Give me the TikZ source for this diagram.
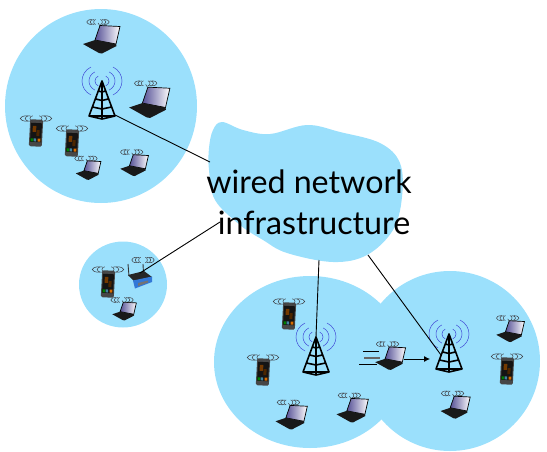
\documentclass[tikz,border=0pt]{standalone}
\usepackage{fontspec}
\usetikzlibrary{arrows.meta}
\setmainfont{Lato}
\definecolor{cloudblue}{RGB}{155,224,252}
\definecolor{wavegray}{RGB}{60,60,65}
\definecolor{towerwave}{RGB}{65,75,215}
\definecolor{screenblue}{RGB}{85,80,150}
\definecolor{routerblue}{RGB}{50,120,215}
\tikzset{
  cell/.style={fill=cloudblue,draw=none},
  link/.style={draw=black,line width=0.9pt},
  waveline/.style={draw=wavegray,line width=0.5pt},
  labeltext/.style={font=\fontsize{32.2}{36}\selectfont,text=black,anchor=base,inner sep=0pt},
  wireless/.pic={
    \foreach \r in {5,9,13}{
      \draw[waveline] (-\r*0.45,-2.7) .. controls (-\r,-2.9) and (-\r,2.9) .. (-\r*0.45,2.7);
      \draw[waveline] (\r*0.45,-2.7) .. controls (\r,-2.9) and (\r,2.9) .. (\r*0.45,2.7);
    }
  },
  laptopicon/.pic={
    \shade[left color=screenblue,right color=white,draw=black,line width=0.7pt]
      (-1,-13.5) -- (19,-12.5) -- (15,5) -- (-6,1) -- cycle;
    \fill[black!90] (-18,5) -- (-6,1) -- (15,5) -- (15.5,7) -- (1,14.5) -- (-2,14) -- cycle;
    \draw[wavegray,line width=0.5pt] (-1,-13) -- (-3,-16);
    \pic[yscale=0.9] at (-3,-17) {wireless};
  },
  phoneicon/.pic={
    \begin{scope}[rotate=-3]
      \fill[black!72,rounded corners=1.5pt] (-6.5,-13.5) rectangle (6.5,13.5);
      \fill[black!92] (-5.5,-10) rectangle (5.5,9);
      \fill[orange!45!black] (-3.5,-7) rectangle (0,-1);
      \fill[orange!30!black] (0.5,-3) rectangle (3.5,3);
      \fill[green!50!black] (-5,5.5) rectangle (-2.5,8.5);
      \fill[cyan!60!black] (-2,5.5) rectangle (0.5,8.5);
      \fill[orange!85!black] (2,5.5) rectangle (4.8,8.5);
    \end{scope}
    \pic[xscale=1.4] at (0,-14.5) {wireless};
  },
  towericon/.pic={
    \draw[towerwave,line width=0.5pt]
      \foreach \r in {7,13,20}{
        (-\r*0.55,-\r*0.7) .. controls (-\r*1.15,-\r*0.4) and (-\r*1.15,\r*0.4) .. (-\r*0.55,\r*0.7)
        (\r*0.55,-\r*0.7) .. controls (\r*1.15,-\r*0.4) and (\r*1.15,\r*0.4) .. (\r*0.55,\r*0.7)
      };
    \draw[black,line width=1.6pt,line join=round]
      (0,0) -- (-13,35) -- (0,38) -- (13,35) -- cycle
      (0,0) -- (0,38)
      (-3.6,10) -- (0,11) -- (3.6,10)
      (-6.3,18) -- (0,19.5) -- (6.3,18)
      (-9.5,26) -- (0,28) -- (9.5,26)
      (-13,35) -- (13,35);
  }
}
\begin{document}
\begin{tikzpicture}[x=1pt,y=-1pt]
\useasboundingbox (0,0) rectangle (547,451);
% cells
\fill[cell] (101,106) ellipse [x radius=96,y radius=97];
\fill[cell] (123,284.5) ellipse [x radius=44,y radius=43];
\fill[cell] (450,361) ellipse [x radius=90,y radius=90];
\fill[cell] (310,362) ellipse [x radius=96,y radius=86];
% infrastructure cloud
\fill[cell] plot[smooth cycle,tension=0.6] coordinates {
 (222,122) (213,130) (209,148) (209,170) (215,200) (240,225) (263,240) (287,253)
 (333,262) (367,255) (393,230) (402,197) (400,163) (380,143) (340,132)
 (307,125) (270,134) (243,130)};
% anchor coordinates
\coordinate (towerA) at (102,81);
\coordinate (towerB) at (316,337);
\coordinate (towerC) at (449,334);
\coordinate (routerA) at (140,273);
\coordinate (cloudA) at (210,162);
\coordinate (cloudB) at (220,222);
\coordinate (cloudC) at (319,260);
\coordinate (cloudD) at (368,255);
\coordinate (towerAfoot) at (115,115);
\coordinate (towerCside) at (441,355);
\coordinate (moveFrom) at (404,359);
\coordinate (moveTo) at (430,359);
\coordinate (trailA) at (363,351);
\coordinate (trailAend) at (379,351);
\coordinate (trailB) at (364,358);
\coordinate (trailBend) at (380,358);
\coordinate (trailC) at (359,364);
\coordinate (trailCend) at (377,364);
% towers
\pic at (towerA) {towericon};
\pic at (towerB) {towericon};
\pic at (towerC) {towericon};
% laptops
\pic[scale=1] at (101,39) {laptopicon};
\pic[scale=1.1] at (149,102) {laptopicon};
\pic[scale=.68] at (88,170) {laptopicon};
\pic[scale=.76] at (134,165) {laptopicon};
\pic[scale=.65] at (124,311) {laptopicon};
\pic[scale=.86] at (291,417) {laptopicon};
\pic[scale=.86] at (352,410) {laptopicon};
\pic[scale=.82] at (390,358) {laptopicon};
\pic[scale=.76] at (510,331) {laptopicon};
\pic[scale=.8] at (455,407) {laptopicon};
% phones
\pic at (36,133) {phoneicon};
\pic at (72,143) {phoneicon};
\pic at (108,284) {phoneicon};
\pic at (289,316) {phoneicon};
\pic at (263,372) {phoneicon};
\pic at (507,371) {phoneicon};
% router
\draw[black!80,line width=0.9pt] (128,264) -- (129,276) (143,264) -- (143.5,273);
\fill[black!85] (128,275) -- (144,271) -- (152,277) -- (134,281) -- cycle;
\fill[routerblue] (133,280.5) -- (152,276.5) -- (152,282) -- (135,288.5) -- cycle;
\fill[black!55] (138,283) -- (148,280.5) -- (148,282.5) -- (138,286) -- cycle;
\pic at (143,260) {wireless};
% links
\draw[link] (towerAfoot) -- (cloudA);
\draw[link] (routerA) -- (cloudB);
\draw[link] (towerB) -- (cloudC);
\draw[link] (towerCside) -- (cloudD);
% mobility
\draw[black,line width=0.7pt] (trailA) -- (trailAend);
\draw[black!60,line width=1.1pt] (trailB) -- (trailBend);
\draw[black,line width=0.7pt] (trailC) -- (trailCend);
\draw[black,line width=0.8pt,-{Latex[length=6pt,width=6pt]}] (moveFrom) -- (moveTo);
% label
\node[labeltext] (labelA) at (309,193) {wired network};
\node[labeltext] (labelB) at (314,234) {infrastructure};
\end{tikzpicture}
\end{document}
